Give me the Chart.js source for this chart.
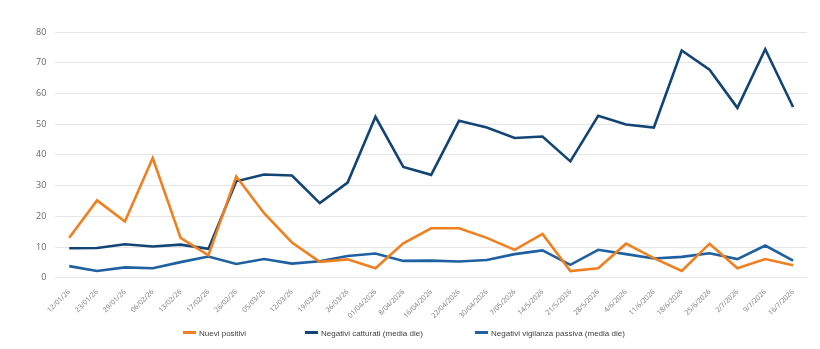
<!DOCTYPE html>
<html>
<head>
<meta charset="utf-8">
<script src="https://cdn.jsdelivr.net/npm/chart.js@4"></script>
<style>
  html, body { margin: 0; padding: 0; background: #fff; }
  #wrap { width: 820px; height: 349px; position: relative; }
  #legenda { position: absolute; left: 0; top: 328px; width: 820px; height: 14px;
             font-family: 'Liberation Sans', Arial, sans-serif; font-size: 8px; color: #404040; }
  #legenda .item { position: absolute; top: 0; white-space: nowrap; line-height: 12px; }
  #legenda .seg { display: inline-block; width: 13px; height: 3px; vertical-align: middle; margin-right: 3px; position: relative; top: -1px; }
</style>
</head>
<body>
<div id="wrap"><canvas id="grafico"></canvas><div id="legenda"></div></div>
<script>
// Date di campionamento (asse X)
const dateLabels = [
  "12/01/26", "23/01/26", "29/01/26", "06/02/26", "13/02/26", "17/02/26", "26/02/26",
  "05/03/26", "12/03/26", "19/03/26", "26/03/26", "01/04/2026", "8/04/2026", "16/04/2026",
  "22/04/2026", "30/04/2026", "7/05/2026", "14/5/2026", "21/5/2026", "28/5/2026", "4/6/2026",
  "11/6/2026", "18/6/2026", "25/6/2026", "2/7/2026", "9/7/2026", "16/7/2026"
];

// Serie
const nuoviPositivi = [13, 25.2, 18.3, 39, 13, 7.3, 33, 21, 11.5, 5.2, 6, 3.1, 11.2, 16.1, 16.1, 13, 9.1, 14.3, 2.2, 3.1, 11.1, 6.4, 2.2, 11.1, 3.1, 6.1, 4.1];
const negativiCatturati = [9.6, 9.7, 10.9, 10.2, 10.8, 9.4, 31.4, 33.6, 33.3, 24.3, 31, 52.4, 36.1, 33.5, 51.1, 48.9, 45.5, 46, 37.9, 52.7, 49.9, 48.9, 74, 67.7, 55.3, 74.4, 55.6];
const negativiPassiva = [3.8, 2.2, 3.4, 3.1, 5.1, 6.9, 4.5, 6.1, 4.6, 5.4, 7.1, 7.9, 5.5, 5.6, 5.3, 5.8, 7.7, 8.9, 4.2, 9.1, 7.7, 6.3, 6.8, 8, 6.1, 10.5, 5.6];

const yTicks = [0, 10, 20, 30, 40, 50, 60, 70, 80];

// Posizione orizzontale delle voci di legenda
const legendaX = [183, 305, 475];

const ctx = document.getElementById('grafico').getContext('2d');

const chart = new Chart(ctx, {
  type: 'line',
  data: {
    labels: dateLabels,
    datasets: [
      {
        label: 'Nuevi positivi',
        data: nuoviPositivi,
        borderColor: '#F0801F',
        backgroundColor: '#F0801F',
        borderWidth: 2.6,
        pointRadius: 0,
        tension: 0
      },
      {
        label: 'Negativi catturati (media die)',
        data: negativiCatturati,
        borderColor: '#134574',
        backgroundColor: '#134574',
        borderWidth: 2.6,
        pointRadius: 0,
        tension: 0
      },
      {
        label: 'Negativi vigilanza passiva (media die)',
        data: negativiPassiva,
        borderColor: '#1E60A0',
        backgroundColor: '#1E60A0',
        borderWidth: 2.6,
        pointRadius: 0,
        tension: 0
      }
    ]
  },
  options: {
    responsive: true,
    maintainAspectRatio: false,
    animation: false,
    layout: { padding: { top: 32, left: 27, right: 13, bottom: 27 } },
    plugins: {
      tooltip: { enabled: false },
      legend: { display: false }
    },
    scales: {
      x: {
        offset: true,
        grid: { display: false },
        border: { display: false },
        ticks: {
          maxRotation: 45,
          minRotation: 45,
          autoSkip: false,
          color: '#7a7a7a',
          padding: 2,
          font: { family: 'Open Sans', size: 7 }
        }
      },
      y: {
        min: 0,
        max: 80,
        afterBuildTicks: (axis) => { axis.ticks = yTicks.map(v => ({ value: v })); },
        grid: { color: '#e6e6e6', lineWidth: 1, drawTicks: false },
        border: { display: false },
        ticks: {
          color: '#666',
          padding: 9,
          font: { family: 'Open Sans', size: 9 }
        }
      }
    }
  }
});

// Legenda HTML (testo reale), voci distanziate come nell'originale
const legenda = document.getElementById('legenda');
chart.data.datasets.forEach((ds, i) => {
  const item = document.createElement('div');
  item.className = 'item';
  item.style.left = legendaX[i] + 'px';
  const seg = document.createElement('span');
  seg.className = 'seg';
  seg.style.background = ds.borderColor;
  item.appendChild(seg);
  item.appendChild(document.createTextNode(ds.label));
  legenda.appendChild(item);
});
</script>
</body>
</html>
